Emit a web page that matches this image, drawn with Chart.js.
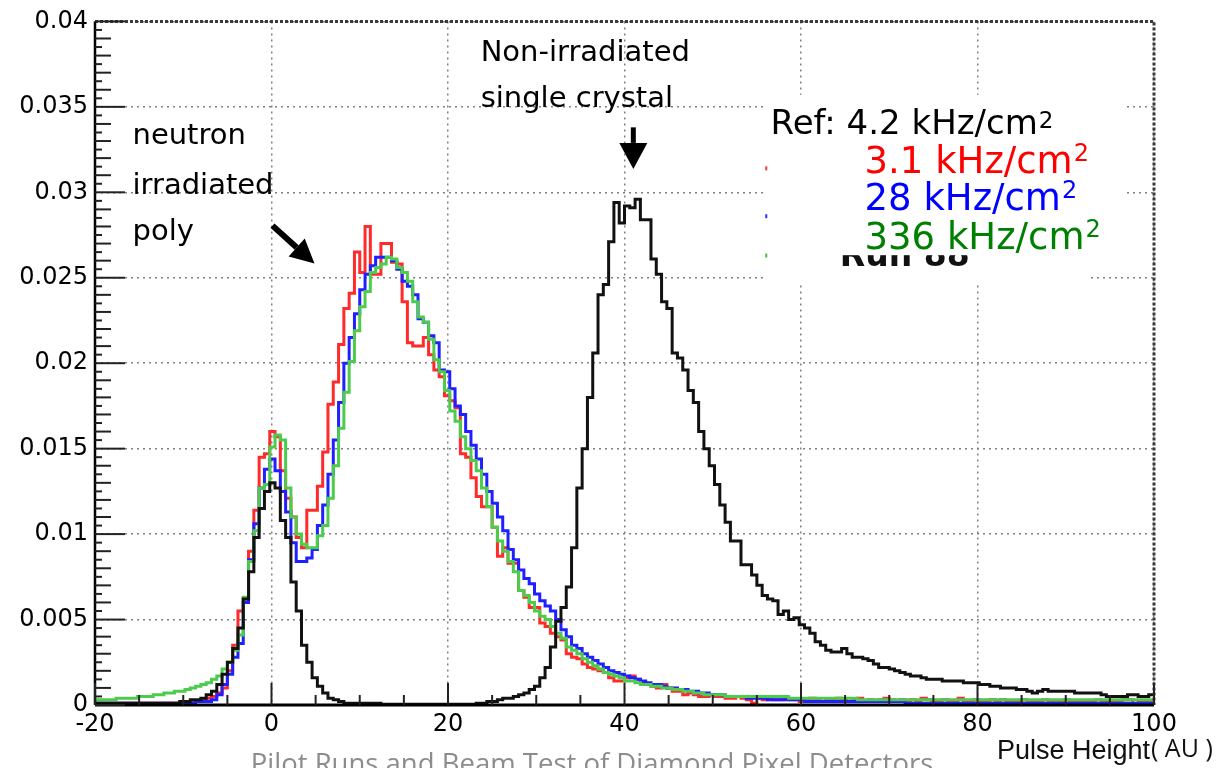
<!DOCTYPE html>
<html>
<head>
<meta charset="utf-8">
<title>Pulse height spectra</title>
<script src="https://cdn.jsdelivr.net/npm/chart.js@4.4.1/dist/chart.umd.min.js"></script>
<style>
  html, body { margin: 0; padding: 0; background: #fff; }
  canvas { display: block; }
</style>
</head>
<body>
<canvas id="phChart" width="1221" height="768"></canvas>
<script>
// --- Binning: -20 .. 100 AU, 0.6 AU per bin ---
const binStart = -20;
const binWidth = 0.6;
const binCount = 200;
const binEdges = Array.from({ length: binCount + 1 }, (_, i) => +(binStart + i * binWidth).toFixed(1));

// --- Series (fraction per bin), 10 bins per row ---
const refRate42 = [
  0.0001, 0.0001, 0.0001, 0.0001, 0.0001, 0.0001, 0.0001, 0.0001, 0.0001, 0.0001,
  0.0001, 0.0001, 0.0001, 0.0001, 0.0001, 0.0001, 0.0002, 0.0002, 0.0003, 0.0003,
  0.0004, 0.0006, 0.0008, 0.0012, 0.0018, 0.0025, 0.0033, 0.0045, 0.0062, 0.0078,
  0.0098, 0.0115, 0.0125, 0.0130, 0.0127, 0.0108, 0.0098, 0.0072, 0.0055, 0.0035,
  0.0025, 0.0016, 0.0011, 0.0007, 0.0004, 0.0003, 0.0002, 0.0001, 0.0001, 0.0001,
  0.0001, 0.0001, 0.0001, 0.0001, 0.00005, 0.00005, 0.00005, 0.00005, 0.00005, 0.00005,
  0.00005, 0.00005, 0.00005, 0.00005, 0.00005, 0.00005, 0.00005, 0.00005, 0.00005, 0.00005,
  0.00005, 0.00005, 0.0001, 0.0001, 0.0002, 0.0002, 0.0003, 0.0004, 0.0004, 0.0005,
  0.0006, 0.0007, 0.0009, 0.0011, 0.0016, 0.0022, 0.0034, 0.0049, 0.0057, 0.0069,
  0.0092, 0.0127, 0.0150, 0.0180, 0.0206, 0.0240, 0.0246, 0.0271, 0.0294, 0.0282,
  0.0292, 0.0291, 0.0296, 0.0284, 0.0284, 0.0261, 0.0252, 0.0236, 0.0232, 0.0206,
  0.0203, 0.0196, 0.0184, 0.0177, 0.0160, 0.0150, 0.0140, 0.0129, 0.0117, 0.0107,
  0.0096, 0.0096, 0.0082, 0.0082, 0.0076, 0.0070, 0.0064, 0.0062, 0.0061, 0.0053,
  0.0055, 0.0050, 0.0051, 0.0047, 0.0045, 0.0042, 0.0037, 0.0035, 0.0032, 0.0031,
  0.0031, 0.0033, 0.0030, 0.0028, 0.0028, 0.0027, 0.0026, 0.0024, 0.0022, 0.0022,
  0.0021, 0.0020, 0.0019, 0.0018, 0.0017, 0.0017, 0.0016, 0.0015, 0.0015, 0.0015,
  0.0014, 0.0014, 0.0014, 0.0014, 0.0013, 0.0013, 0.0013, 0.0012, 0.0012, 0.0011,
  0.0011, 0.0010, 0.0010, 0.0010, 0.0009, 0.0009, 0.0008, 0.0007, 0.0008, 0.0009,
  0.0008, 0.0008, 0.0008, 0.0008, 0.0008, 0.0007, 0.0007, 0.0007, 0.0007, 0.0007,
  0.0006, 0.0005, 0.0005, 0.0005, 0.0005, 0.0006, 0.0006, 0.0005, 0.0005, 0.0006
];

const rate3p1 = [
  0.0001, 0.0001, 0.0001, 0.0001, 0.0001, 0.0001, 0.0001, 0.0001, 0.0001, 0.0001,
  0.0001, 0.0001, 0.0001, 0.0001, 0.0001, 0.0001, 0.0001, 0.0001, 0.0002, 0.0002,
  0.0003, 0.0004, 0.0005, 0.0007, 0.0010, 0.0020, 0.0035, 0.0055, 0.0062, 0.0090,
  0.0114, 0.0145, 0.0147, 0.0160, 0.0157, 0.0137, 0.0121, 0.0110, 0.0098, 0.0092,
  0.0114, 0.0114, 0.0128, 0.0148, 0.0176, 0.0189, 0.0211, 0.0232, 0.0241, 0.0265,
  0.0253, 0.0280, 0.0252, 0.0252, 0.0270, 0.0270, 0.0259, 0.0258, 0.0236, 0.0212,
  0.0210, 0.0210, 0.0215, 0.0205, 0.0196, 0.0192, 0.0181, 0.0178, 0.0174, 0.0147,
  0.0145, 0.0133, 0.0122, 0.0116, 0.0116, 0.0104, 0.0087, 0.0092, 0.0083, 0.0083,
  0.0067, 0.0063, 0.0057, 0.0057, 0.0048, 0.0046, 0.0042, 0.0040, 0.0038, 0.0030,
  0.0028, 0.0027, 0.0024, 0.0022, 0.0021, 0.0020, 0.0019, 0.0016, 0.0014, 0.0014,
  0.0016, 0.0017, 0.0015, 0.0013, 0.0012, 0.0011, 0.0010, 0.0012, 0.0010, 0.0008,
  0.0008, 0.0006, 0.0007, 0.0006, 0.0005, 0.0005, 0.0006, 0.0005, 0.0005, 0.0004,
  0.0004, 0.0005, 0.0004, 0.0003, 0.0001, 0.0004, 0.0003, 0.0004, 0.0003, 0.0003,
  0.0004, 0.0003, 0.0003, 0.0002, 0.0003, 0.0004, 0.0003, 0.0002, 0.0003, 0.0003,
  0.0004, 0.0003, 0.0002, 0.0003, 0.0004, 0.0002, 0.0003, 0.0002, 0.0003, 0.0004,
  0.0003, 0.0002, 0.0003, 0.0002, 0.0003, 0.0002, 0.0004, 0.0003, 0.0002, 0.0002,
  0.0003, 0.0002, 0.0002, 0.0004, 0.0002, 0.0002, 0.0003, 0.0002, 0.0002, 0.0003,
  0.0002, 0.0003, 0.0002, 0.0002, 0.0002, 0.0003, 0.0002, 0.0002, 0.0002, 0.0003,
  0.0002, 0.0002, 0.0002, 0.0003, 0.0002, 0.0002, 0.0002, 0.0002, 0.0002, 0.0003,
  0.0002, 0.0002, 0.0002, 0.0002, 0.0003, 0.0003, 0.0000, 0.0002, 0.0002, 0.0002
];

const rate28 = [
  0.0001, 0.0001, 0.0001, 0.0001, 0.0001, 0.0001, 0.0001, 0.0001, 0.0001, 0.0001,
  0.0001, 0.0001, 0.0001, 0.0001, 0.0001, 0.0001, 0.0001, 0.0001, 0.0001, 0.0002,
  0.0002, 0.0002, 0.0003, 0.0006, 0.0012, 0.0018, 0.0028, 0.0036, 0.0060, 0.0085,
  0.0106, 0.0127, 0.0138, 0.0144, 0.0137, 0.0125, 0.0113, 0.0095, 0.0084, 0.0084,
  0.0086, 0.0091, 0.0105, 0.0117, 0.0135, 0.0155, 0.0177, 0.0200, 0.0215, 0.0229,
  0.0243, 0.0252, 0.0257, 0.0262, 0.0262, 0.0262, 0.0260, 0.0255, 0.0248, 0.0245,
  0.0240, 0.0226, 0.0224, 0.0216, 0.0212, 0.0196, 0.0195, 0.0185, 0.0175, 0.0170,
  0.0160, 0.0152, 0.0144, 0.0135, 0.0125, 0.0118, 0.0110, 0.0102, 0.0091, 0.0085,
  0.0079, 0.0074, 0.0071, 0.0065, 0.0061, 0.0058, 0.0055, 0.0050, 0.0044, 0.0040,
  0.0035, 0.0033, 0.0030, 0.0028, 0.0026, 0.0024, 0.0022, 0.0020, 0.0019, 0.0018,
  0.0017, 0.0016, 0.0015, 0.0014, 0.0013, 0.0012, 0.0012, 0.0011, 0.0010, 0.0010,
  0.0009, 0.0009, 0.0008, 0.0008, 0.0007, 0.0007, 0.0006, 0.0006, 0.0006, 0.0005,
  0.0005, 0.0005, 0.0005, 0.0004, 0.0004, 0.0004, 0.0004, 0.0003, 0.0003, 0.0003,
  0.0003, 0.0003, 0.0003, 0.0003, 0.0002, 0.0002, 0.0002, 0.0002, 0.0002, 0.0002,
  0.0002, 0.0002, 0.0002, 0.0002, 0.0002, 0.0002, 0.0002, 0.0002, 0.0002, 0.0002,
  0.0002, 0.0002, 0.0002, 0.0001, 0.0001, 0.0001, 0.0001, 0.0001, 0.0001, 0.0001,
  0.0001, 0.0001, 0.0001, 0.0001, 0.0001, 0.0001, 0.0001, 0.0001, 0.0001, 0.0001,
  0.0001, 0.0001, 0.0001, 0.0001, 0.0001, 0.0001, 0.0001, 0.0001, 0.0001, 0.0001,
  0.0001, 0.0001, 0.0001, 0.0001, 0.0001, 0.0001, 0.0001, 0.0001, 0.0001, 0.0001,
  0.0001, 0.0001, 0.0001, 0.0001, 0.0001, 0.0001, 0.0001, 0.0001, 0.0001, 0.0001
];

const rate336 = [
  0.0003, 0.0003, 0.0003, 0.0003, 0.0004, 0.0004, 0.0004, 0.0004, 0.0005, 0.0005,
  0.0005, 0.0006, 0.0006, 0.0007, 0.0007, 0.0008, 0.0008, 0.0009, 0.0010, 0.0011,
  0.0012, 0.0013, 0.0015, 0.0017, 0.0021, 0.0025, 0.0032, 0.0041, 0.0063, 0.0084,
  0.0102, 0.0127, 0.0129, 0.0151, 0.0158, 0.0155, 0.0127, 0.0110, 0.0100, 0.0094,
  0.0092, 0.0092, 0.0099, 0.0105, 0.0121, 0.0140, 0.0162, 0.0183, 0.0201, 0.0219,
  0.0233, 0.0242, 0.0253, 0.0256, 0.0258, 0.0262, 0.0261, 0.0256, 0.0253, 0.0248,
  0.0236, 0.0227, 0.0224, 0.0214, 0.0202, 0.0195, 0.0184, 0.0172, 0.0166, 0.0157,
  0.0150, 0.0143, 0.0137, 0.0127, 0.0116, 0.0104, 0.0096, 0.0090, 0.0084, 0.0078,
  0.0067, 0.0064, 0.0060, 0.0055, 0.0052, 0.0050, 0.0046, 0.0042, 0.0039, 0.0034,
  0.0032, 0.0030, 0.0027, 0.0025, 0.0023, 0.0021, 0.0019, 0.0018, 0.0017, 0.0016,
  0.0014, 0.0014, 0.0013, 0.0012, 0.0012, 0.0011, 0.0011, 0.0010, 0.0010, 0.0009,
  0.0009, 0.0008, 0.0008, 0.0007, 0.0007, 0.0006, 0.0006, 0.0006, 0.0006, 0.0005,
  0.0005, 0.0005, 0.0005, 0.0005, 0.0005, 0.0005, 0.0005, 0.0005, 0.0005, 0.0005,
  0.0005, 0.0004, 0.0004, 0.0004, 0.0004, 0.0004, 0.0004, 0.0004, 0.0004, 0.0004,
  0.0004, 0.0004, 0.0004, 0.0004, 0.0003, 0.0003, 0.0003, 0.0003, 0.0003, 0.0003,
  0.0003, 0.0003, 0.0003, 0.0003, 0.0003, 0.0003, 0.0003, 0.0003, 0.0003, 0.0003,
  0.0003, 0.0003, 0.0003, 0.0003, 0.0003, 0.0003, 0.0003, 0.0003, 0.0003, 0.0003,
  0.0003, 0.0003, 0.0003, 0.0003, 0.0003, 0.0003, 0.0003, 0.0003, 0.0003, 0.0003,
  0.0003, 0.0003, 0.0003, 0.0003, 0.0003, 0.0003, 0.0003, 0.0003, 0.0003, 0.0003,
  0.0003, 0.0003, 0.0003, 0.0003, 0.0003, 0.0003, 0.0003, 0.0003, 0.0003, 0.0003
];

// legend entries (text before the superscript 2)
const legendText = ['Ref: 4.2 kHz/cm', '3.1 kHz/cm', '28 kHz/cm', '336 kHz/cm'];
const legendColors = ['#000000', '#ff0000', '#0000ff', '#008000'];
const lineColors = ['#111111', '#ff2a2a', '#1f1fff', '#4ccc4c'];

// --- Helpers ---
function histPoints(values) {
  // one point per left bin edge, last value repeated at the right edge
  return binEdges.map((x, i) => ({ x, y: values[Math.min(i, values.length - 1)] }));
}

function drawArrow(ctx, x1, y1, x2, y2, headLen, headHalf, shaft) {
  const ang = Math.atan2(y2 - y1, x2 - x1);
  const bx = x2 - Math.cos(ang) * headLen;
  const by = y2 - Math.sin(ang) * headLen;
  ctx.lineWidth = shaft;
  ctx.beginPath();
  ctx.moveTo(x1, y1);
  ctx.lineTo(bx, by);
  ctx.stroke();
  ctx.beginPath();
  ctx.moveTo(x2, y2);
  ctx.lineTo(bx + Math.sin(ang) * headHalf, by - Math.cos(ang) * headHalf);
  ctx.lineTo(bx - Math.sin(ang) * headHalf, by + Math.cos(ang) * headHalf);
  ctx.closePath();
  ctx.fill();
}

function textWithSquare(ctx, text, x, y, size, supSize, raise) {
  ctx.font = size + 'px "DejaVu Sans"';
  ctx.fillText(text, x, y);
  const w = ctx.measureText(text).width;
  ctx.font = supSize + 'px "DejaVu Sans"';
  ctx.fillText('2', x + w + 1, y - raise);
}

// --- ROOT-like frame, ticks and annotations ---
const rootStyle = {
  id: 'rootStyle',
  afterDatasetsDraw(chart) {
    const { ctx, chartArea: a, scales: { x: xs, y: ys } } = chart;
    const X = v => xs.getPixelForValue(v);
    const Y = v => ys.getPixelForValue(v);
    ctx.save();

    // top and right edges of the frame are dotted
    ctx.strokeStyle = '#3a3a3a';
    ctx.lineWidth = 3;
    ctx.setLineDash([3, 2]);
    ctx.beginPath();
    ctx.moveTo(a.left, a.top);
    ctx.lineTo(a.right, a.top);
    ctx.lineTo(a.right, a.bottom);
    ctx.stroke();
    ctx.setLineDash([]);

    // axes
    ctx.strokeStyle = '#000';
    ctx.lineWidth = 2.5;
    ctx.beginPath();
    ctx.moveTo(a.left, a.top);
    ctx.lineTo(a.left, a.bottom);
    ctx.stroke();
    ctx.lineWidth = 3;
    ctx.beginPath();
    ctx.moveTo(a.left, a.bottom);
    ctx.lineTo(a.right, a.bottom);
    ctx.stroke();

    // inward tick marks
    ctx.strokeStyle = '#222';
    ctx.lineWidth = 2;
    for (let k = 0; k <= 80; k++) {
      const len = k % 10 === 0 ? 30 : (k % 2 === 0 ? 16 : 7);
      const y = Y(k * 0.0005);
      ctx.beginPath();
      ctx.moveTo(a.left, y);
      ctx.lineTo(a.left + len, y);
      ctx.stroke();
    }
    for (let v = -20; v <= 100; v += 5) {
      const len = v % 20 === 0 ? 22 : 10;
      const x = X(v);
      ctx.beginPath();
      ctx.moveTo(x, a.bottom);
      ctx.lineTo(x, a.bottom - len);
      ctx.stroke();
    }

    // ROOT legend box (mostly covered by the pasted labels)
    ctx.fillStyle = '#fff';
    ctx.fillRect(X(55.9), Y(0.0357), X(92.5) - X(55.9), Y(0.0247) - Y(0.0357));
    ctx.fillStyle = '#111';
    ctx.font = 'bold 33px "DejaVu Sans"';
    ctx.fillText('Run 88', X(64.4), Y(0.02566));
    // pasted white label box
    ctx.fillStyle = '#fff';
    ctx.fillRect(X(55.9), Y(0.0357), X(96.7) - X(55.9), Y(0.02632) - Y(0.0357));
    // stray legend-line samples at the box edge
    ctx.fillStyle = '#ff3030';
    ctx.fillRect(X(55.95), Y(0.0314) - 2, 2, 4);
    ctx.fillStyle = '#3030ff';
    ctx.fillRect(X(55.95), Y(0.0286) - 2, 2, 4);
    ctx.fillStyle = '#40c040';
    ctx.fillRect(X(55.95), Y(0.0263) - 2, 2, 4);

    // legend texts
    ctx.textAlign = 'left';
    ctx.textBaseline = 'alphabetic';
    ctx.fillStyle = legendColors[0];
    textWithSquare(ctx, legendText[0], X(56.55), Y(0.03341), 34, 23, 6);
    const rows = [0.03114, 0.02898, 0.02671];
    for (let i = 1; i < 4; i++) {
      ctx.fillStyle = legendColors[i];
      textWithSquare(ctx, legendText[i], X(67.2), Y(rows[i - 1]), 37, 24, 12);
    }

    // annotations
    ctx.fillStyle = '#000';
    ctx.font = '29px "DejaVu Sans"';
    ctx.fillText('neutron', X(-15.75), Y(0.0328));
    ctx.fillText('irradiated', X(-15.75), Y(0.0299));
    ctx.fillText('poly', X(-15.75), Y(0.0272));
    ctx.fillText('Non-irradiated', X(23.7), Y(0.0377));
    ctx.fillText('single crystal', X(23.7), Y(0.0350));

    ctx.strokeStyle = '#000';
    drawArrow(ctx, X(0.11), Y(0.02805), X(4.87), Y(0.02583), 24, 12, 6);
    drawArrow(ctx, X(41.0), Y(0.0338), X(41.0), Y(0.03137), 26, 14, 5);

    ctx.restore();
  },
  afterDraw(chart) {
    const { ctx, chartArea: a } = chart;
    ctx.save();
    ctx.fillStyle = '#111';
    ctx.textBaseline = 'alphabetic';
    ctx.textAlign = 'right';
    ctx.font = '27px "Liberation Sans"';
    ctx.fillText('Pulse Height', a.right - 4, 759);
    ctx.textAlign = 'left';
    ctx.font = '25px "Open Sans"';
    ctx.fillText('( AU )', a.right - 3, 757);

    ctx.fillStyle = '#8c8c8c';
    ctx.textAlign = 'center';
    ctx.font = '27.5px "Open Sans"';
    ctx.fillText('Pilot Runs and Beam Test of Diamond Pixel Detectors', 592, 773);
    ctx.restore();
  }
};

// --- Chart ---
const tickFont = { family: 'DejaVu Sans', size: 24 };
const gridStyle = { color: '#808080', lineWidth: 1.5, drawTicks: false };

const datasets = [
  { label: 'Ref: 4.2 kHz/cm²', data: histPoints(refRate42), borderColor: lineColors[0], order: 0 },
  { label: '336 kHz/cm²', data: histPoints(rate336), borderColor: lineColors[3], order: 1 },
  { label: '28 kHz/cm²', data: histPoints(rate28), borderColor: lineColors[2], order: 2 },
  { label: '3.1 kHz/cm²', data: histPoints(rate3p1), borderColor: lineColors[1], order: 3 }
].map(d => Object.assign({ borderWidth: 3, stepped: 'before', pointRadius: 0, fill: false, tension: 0 }, d));

const phChart = new Chart(document.getElementById('phChart').getContext('2d'), {
  type: 'line',
  data: { datasets },
  options: {
    responsive: false,
    animation: false,
    devicePixelRatio: 1,
    layout: { padding: { top: 19, right: 67, left: 0, bottom: 0 } },
    plugins: {
      legend: { display: false },
      tooltip: { enabled: false }
    },
    scales: {
      x: {
        type: 'linear',
        min: -20,
        max: 100,
        afterFit: s => { s.height = 63; },
        ticks: { stepSize: 20, font: tickFont, color: '#000', padding: 5, maxRotation: 0 },
        grid: gridStyle,
        border: { display: false, dash: [2, 4] }
      },
      y: {
        min: 0,
        max: 0.04,
        afterFit: s => { s.width = 95; },
        ticks: {
          stepSize: 0.005,
          font: tickFont,
          color: '#000',
          padding: 7,
          callback: v => String(+v.toFixed(3))
        },
        grid: gridStyle,
        border: { display: false, dash: [2, 4] }
      }
    }
  },
  plugins: [rootStyle]
});
</script>
</body>
</html>
